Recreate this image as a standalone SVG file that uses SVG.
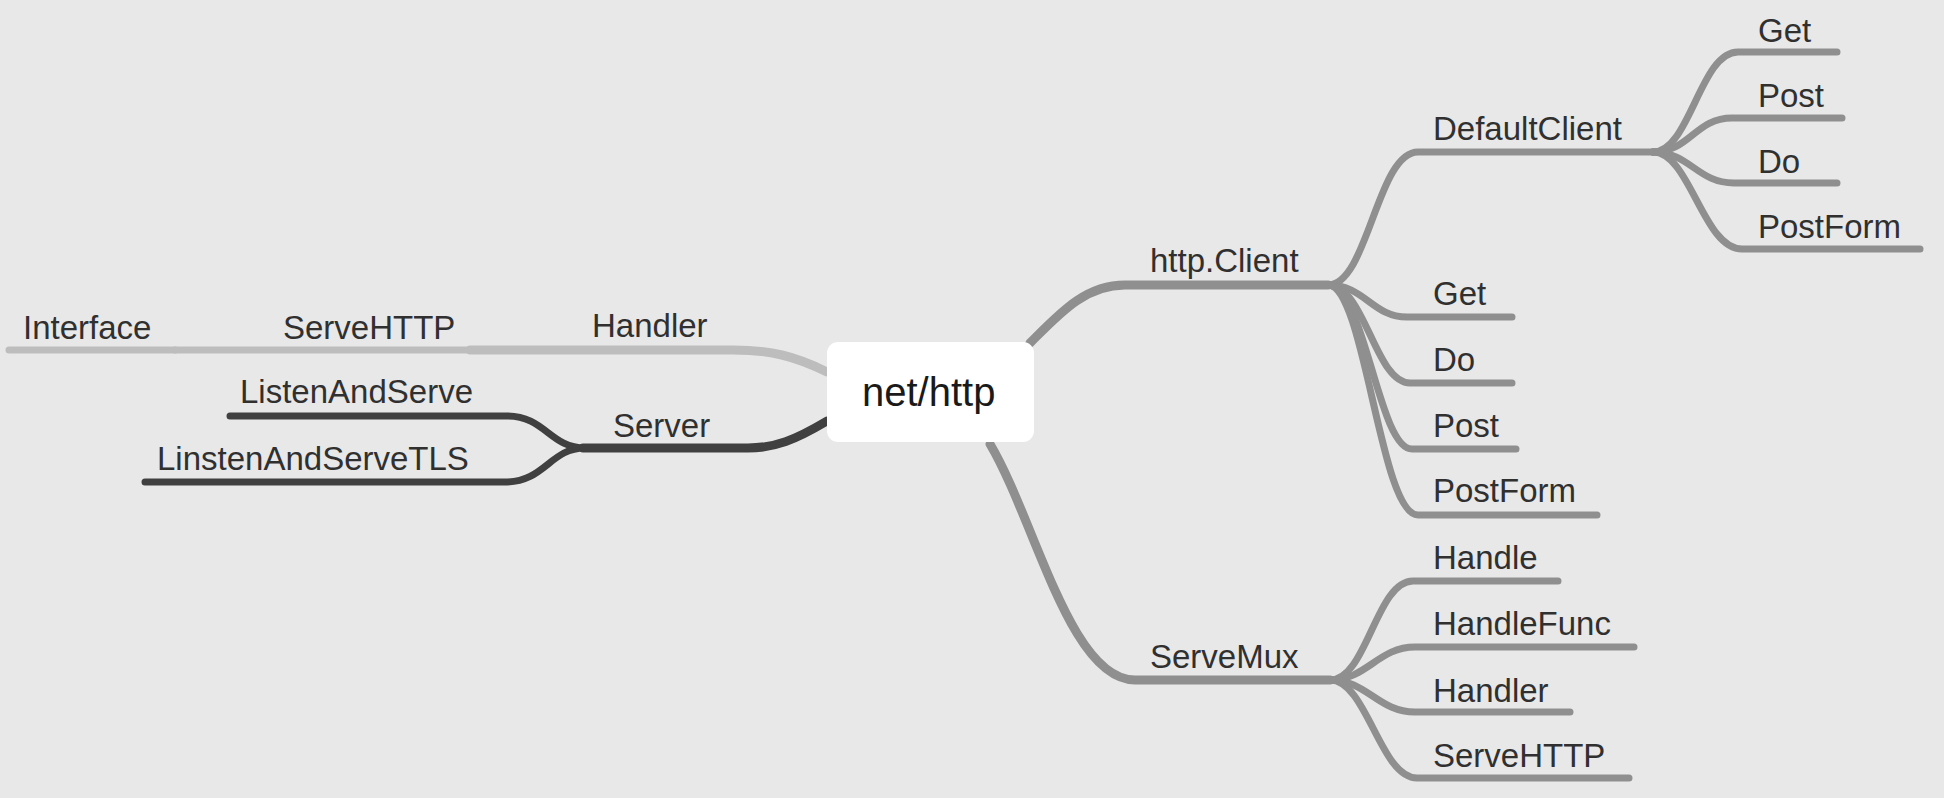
<svg xmlns="http://www.w3.org/2000/svg" width="1944" height="798" viewBox="0 0 1944 798">
<style>
.bg{fill:#e8e8e8}
.ln{fill:none;stroke-linecap:round;stroke-linejoin:round}
.mid{stroke:#8f8f8f}
.dark{stroke:#404040}
.light{stroke:#bdbdbd}
.w1{stroke-width:9}
.w2{stroke-width:7}
.lbl{font-family:"Liberation Sans",Arial,sans-serif;font-size:33px;fill:#303030}
.root{font-family:"Liberation Sans",Arial,sans-serif;font-size:40px;fill:#1a1a1a}
</style>
<rect class="bg" x="0" y="0" width="1944" height="798"/>
<g id="connectors">
  <!-- left: Handler / ServeHTTP / Interface -->
  <path class="ln light w1" d="M827 372 C795 356 770 350 733 350 L470 350"/>
  <path class="ln light w2" d="M470 350 L175 350"/>
  <path class="ln light w2" d="M175 350 L9 350"/>
  <!-- left: Server -->
  <path class="ln dark w1" d="M827 421 C795 440 775 448 748 448 L583 448"/>
  <path class="ln dark w2" d="M585 448 C550 448 545 416 507 416 L230 416"/>
  <path class="ln dark w2" d="M585 448 C550 448 545 482 505 482 L145 482"/>
  <!-- right: http.Client -->
  <path class="ln mid w1" d="M1030 343 C1060 313 1085 285 1125 285 L1328 285"/>
  <path class="ln mid w2" d="M1328 285 C1368 285 1377 152 1418 152 L1653 152"/>
  <path class="ln mid w2" d="M1328 285 C1365 285 1372 317 1407 317 L1512 317"/>
  <path class="ln mid w2" d="M1328 285 C1365 285 1375 383 1410 383 L1512 383"/>
  <path class="ln mid w2" d="M1328 285 C1365 285 1378 449 1412 449 L1516 449"/>
  <path class="ln mid w2" d="M1328 285 C1365 285 1380 515 1418 515 L1597 515"/>
  <!-- DefaultClient children -->
  <path class="ln mid w2" d="M1653 152 C1690 152 1700 52 1738 52 L1837 52"/>
  <path class="ln mid w2" d="M1653 152 C1690 152 1695 118 1732 118 L1842 118"/>
  <path class="ln mid w2" d="M1653 152 C1690 152 1697 183 1734 183 L1837 183"/>
  <path class="ln mid w2" d="M1653 152 C1690 152 1703 249 1742 249 L1920 249"/>
  <!-- ServeMux -->
  <path class="ln mid w1" d="M990 444 C1035 520 1070 680 1135 680 L1330 680"/>
  <path class="ln mid w2" d="M1330 680 C1367 680 1376 581 1413 581 L1558 581"/>
  <path class="ln mid w2" d="M1330 680 C1367 680 1378 647 1415 647 L1634 647"/>
  <path class="ln mid w2" d="M1330 680 C1367 680 1378 712 1415 712 L1570 712"/>
  <path class="ln mid w2" d="M1330 680 C1367 680 1380 778 1417 778 L1629 778"/>
</g>
<g id="root"><rect x="827" y="342" width="207" height="100" rx="11" fill="#ffffff"/><text class="root" x="862" y="406">net/http</text></g>
<g id="handler"><text class="lbl" x="592" y="337">Handler</text></g>
<g id="servehttp-left"><text class="lbl" x="283" y="339">ServeHTTP</text></g>
<g id="interface"><text class="lbl" x="23" y="339">Interface</text></g>
<g id="server"><text class="lbl" x="613" y="437">Server</text></g>
<g id="listenandserve"><text class="lbl" x="240" y="403">ListenAndServe</text></g>
<g id="listenandservetls"><text class="lbl" x="157" y="470">LinstenAndServeTLS</text></g>
<g id="httpclient"><text class="lbl" x="1150" y="272">http.Client</text></g>
<g id="defaultclient"><text class="lbl" x="1433" y="140">DefaultClient</text></g>
<g id="dc-get"><text class="lbl" x="1758" y="42">Get</text></g>
<g id="dc-post"><text class="lbl" x="1758" y="107">Post</text></g>
<g id="dc-do"><text class="lbl" x="1758" y="173">Do</text></g>
<g id="dc-postform"><text class="lbl" x="1758" y="238">PostForm</text></g>
<g id="hc-get"><text class="lbl" x="1433" y="305">Get</text></g>
<g id="hc-do"><text class="lbl" x="1433" y="371">Do</text></g>
<g id="hc-post"><text class="lbl" x="1433" y="437">Post</text></g>
<g id="hc-postform"><text class="lbl" x="1433" y="502">PostForm</text></g>
<g id="servemux"><text class="lbl" x="1150" y="668">ServeMux</text></g>
<g id="sm-handle"><text class="lbl" x="1433" y="569">Handle</text></g>
<g id="sm-handlefunc"><text class="lbl" x="1433" y="635">HandleFunc</text></g>
<g id="sm-handler"><text class="lbl" x="1433" y="702">Handler</text></g>
<g id="sm-servehttp"><text class="lbl" x="1433" y="767">ServeHTTP</text></g>
</svg>
